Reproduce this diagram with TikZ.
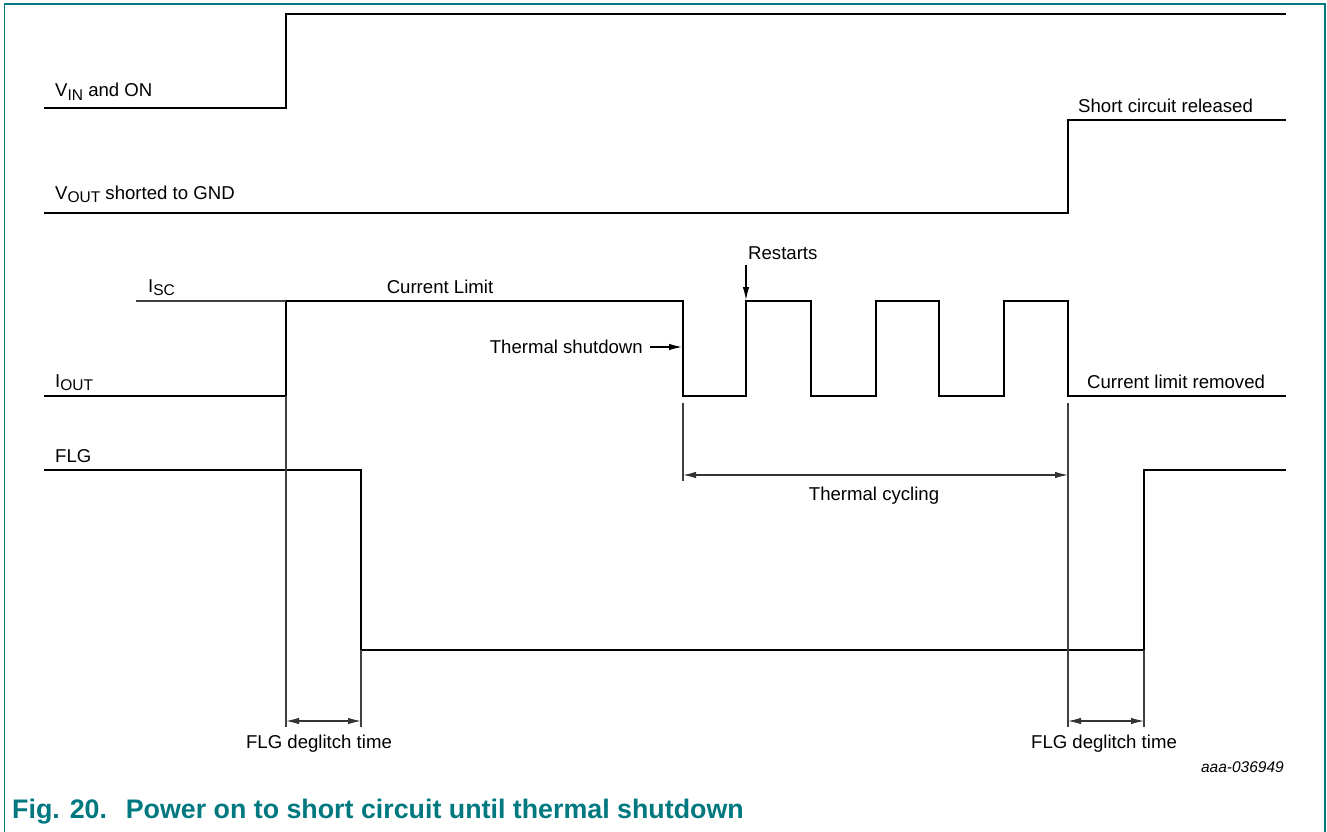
\documentclass[tikz,border=0pt]{standalone}
\usepackage{fontspec}
\setmainfont{Liberation Sans}
\usetikzlibrary{arrows.meta}
\definecolor{nxpteal}{RGB}{0,120,128}
\newcommand{\sig}[2]{#1\raisebox{-0.4ex}{\fontsize{15.5}{15.5}\selectfont #2}}
\tikzset{
  wave/.style={draw=black,line width=2.6pt,line join=miter},
  thinline/.style={draw=black!75,line width=1.1pt},
  dimarrow/.style={draw=black!80,line width=1.1pt,{Latex[length=13pt,width=6.5pt]}-{Latex[length=13pt,width=6.5pt]}},
  callout/.style={draw=black,line width=1.1pt,-{Latex[length=13pt,width=6.5pt]}}
}
\begin{document}
\begin{tikzpicture}[x=1pt,y=-1pt]
  \useasboundingbox (0,0) rectangle (1327,832);
  % frame
  \draw[nxpteal,line width=1.4pt] (4.5,832) -- (4.5,4) -- (1325,4) -- (1325,832);
  % waveforms
  \draw[wave] (44,108) -- (286,108) -- (286,14) -- (1286,14);
  \draw[wave] (44,213) -- (1068,213) -- (1068,120) -- (1286,120);
  \draw[wave] (44,396) -- (286,396) -- (286,301) -- (683,301) -- (683,396)
    -- (746,396) -- (746,301) -- (811,301) -- (811,396)
    -- (876,396) -- (876,301) -- (939,301) -- (939,396)
    -- (1004,396) -- (1004,301) -- (1068,301) -- (1068,396) -- (1286,396);
  \draw[wave] (44,470) -- (361,470) -- (361,650) -- (1144,650) -- (1144,470) -- (1286,470);
  % timing marks
  \coordinate (tona) at (286,721);
  \coordinate (tonb) at (361,721);
  \coordinate (cyca) at (683,475);
  \coordinate (cycb) at (1068,475);
  \coordinate (offa) at (1068,721);
  \coordinate (offb) at (1144,721);
  \draw[thinline] (136,301) -- (286,301);
  \draw[thinline] (286,396) -- (286,727);
  \draw[thinline] (361,650) -- (361,727);
  \draw[thinline] (683,403) -- (683,481);
  \draw[thinline] (1068,403) -- (1068,727);
  \draw[thinline] (1144,650) -- (1144,727);
  \draw[dimarrow] (tona) -- (tonb);
  \draw[dimarrow] (cyca) -- (cycb);
  \draw[dimarrow] (offa) -- (offb);
  \begin{scope}[every node/.style={font=\fontsize{18.6}{21}\selectfont,inner sep=0pt,anchor=base west}]
  \node (vin) at (55,97) {\sig{V}{IN} and ON};
  \node (vout) at (55,199) {\sig{V}{OUT} shorted to GND};
  \node (released) at (1078,113) {Short circuit released};
  \node (isc) at (148,292) {\sig{I}{SC}};
  \node[anchor=base] (limit) at (440,293) {Current Limit};
  \node (restart) at (748,259) {Restarts};
  \node[anchor=base east] (shutdown) at (643,353) {Thermal shutdown};
  \node (iout) at (55,387) {\sig{I}{OUT}};
  \node (removed) at (1087,388) {Current limit removed};
  \node[anchor=base] (cycling) at (874,500) {Thermal cycling};
  \node (flg) at (55,462) {FLG};
  \node[anchor=base] (dgla) at (319,748) {FLG deglitch time};
  \node[anchor=base] (dglb) at (1104,748) {FLG deglitch time};
  \end{scope}
  \coordinate (rsttip) at (746,300);
  \coordinate (sdtip) at (682,347);
  \draw[callout] (746,265) -- (rsttip);
  \draw[callout] (650,347) -- (sdtip);
  \node[font=\fontsize{15.5}{18}\selectfont\itshape,inner sep=0pt,anchor=base east] (code) at (1284,772) {aaa-036949};
  \node[font=\fontsize{26.8}{30}\selectfont\bfseries,text=nxpteal,inner sep=0pt,anchor=base west] (caption) at (12,818) {Fig. 20.\hspace{0.7em}Power on to short circuit until thermal shutdown};
\end{tikzpicture}
\end{document}
